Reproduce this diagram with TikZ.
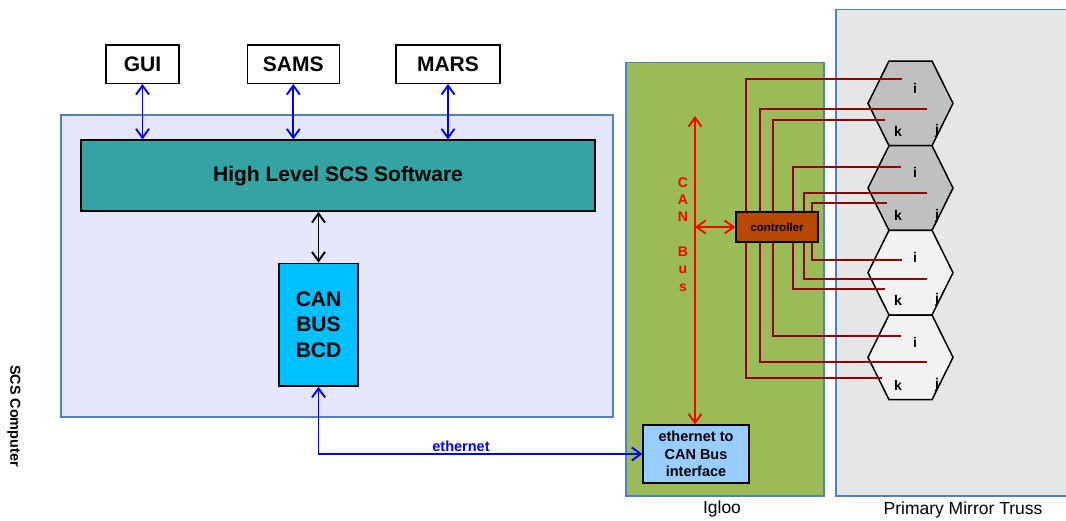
\documentclass[tikz,border=0pt]{standalone}
\usepackage{fontspec}
\setmainfont{Liberation Sans}
\usetikzlibrary{arrows.meta}

\definecolor{scsfill}{HTML}{E6E6FA}
\definecolor{frameblue}{HTML}{4F81BD}
\definecolor{hlteal}{HTML}{33A3A3}
\definecolor{bcdblue}{HTML}{00BFFF}
\definecolor{igloogreen}{HTML}{9BBB59}
\definecolor{trussgray}{HTML}{E6E6E6}
\definecolor{wirered}{HTML}{900000}
\definecolor{ctrlbrown}{HTML}{B84700}
\definecolor{ifaceblue}{HTML}{99CCFF}
\definecolor{hexdark}{HTML}{C0C0C0}
\definecolor{hexlight}{HTML}{F2F2F2}

\begin{document}
\begin{tikzpicture}[x=1pt, y=-1pt,
    >={Straight Barb[length=9pt, width=13pt]},
    box/.style={draw=black, line width=1.5pt, inner sep=0pt, align=center,
        font=\bfseries\fontsize{21}{25.5}\selectfont},
    frame/.style={draw=frameblue, line width=1.6pt, inner sep=0pt},
    bluearrow/.style={<->, draw=blue, line width=1.9pt},
    redarrow/.style={<->, draw=red, line width=1.9pt},
    hex/.style={draw=black, line width=1.5pt},
    hexlab/.style={inner sep=0pt, font=\bfseries\fontsize{14}{16}\selectfont},
    wire/.style={draw=wirered, line width=1.7pt}]
    \useasboundingbox (0,0) rectangle (1066,520);

    % SCS computer side
    \node[frame, fill=scsfill, minimum width=552, minimum height=302] (scs) at (337,266) {};
    \node[rotate=-90, font=\bfseries\fontsize{14.4}{17}\selectfont] (scslab) at (14,416) {SCS Computer};

    \node[box, fill=white, minimum width=73, minimum height=38.5] (gui) at (142.5,64) {GUI};
    \node[box, fill=white, minimum width=92, minimum height=38.5] (sams) at (293.3,64) {SAMS};
    \node[box, fill=white, minimum width=104, minimum height=38.5] (mars) at (448,64) {MARS};
    \node[box, fill=hlteal, minimum width=514, minimum height=71] (hl) at (338,175.7) {High Level SCS Software};
    \node[box, fill=bcdblue, minimum width=79, minimum height=122.7] (bcd) at (318.5,324.7) {CAN\\BUS\\BCD};

    \draw[bluearrow] (gui.south) -- (gui.south |- hl.north);
    \draw[bluearrow] (sams.south) -- (sams.south |- hl.north);
    \draw[bluearrow] (mars.south) -- (mars.south |- hl.north);
    \draw[<->, line width=1.9pt] (bcd.north |- hl.south) -- (bcd.north);

    % igloo and truss
    \node[frame, fill=trussgray, minimum width=280, minimum height=486.3] (truss) at (975.8,252.8) {};
    \node[frame, fill=igloogreen, minimum width=197.7, minimum height=433.7] (igloo) at (724.9,279.2) {};
    \node[font=\fontsize{17.5}{20}\selectfont] (igloolab) at (722,509) {Igloo};
    \node[font=\fontsize{17.5}{20}\selectfont] (trusslab) at (963,510) {Primary Mirror Truss};

    \foreach \t/\f in {61/hexdark, 145.7/hexdark, 230.3/hexlight, 315/hexlight} {
        \draw[hex, fill=\f] (868,\t+42.35) -- (889,\t) -- (932,\t) -- (953,\t+42.35)
            -- (932,\t+84.7) -- (889,\t+84.7) -- cycle;
        \node[hexlab] at (915,\t+27) {i};
        \node[hexlab] at (898,\t+70) {k};
        \node[hexlab] at (937,\t+70) {j};
    }

    % wires, top hexes to bottom hexes
    \foreach \xv/\ya/\xa/\yb/\xb in {746/79/902/378/882, 760/109/927/362/927, 773/120/885/336/901,
        793/167/901/289/885, 804/193/927/279/927, 812/203/887/260/902}
        \draw[wire] (\xa,\ya) -| (\xv,228) |- (\xb,\yb);

    \node[draw=black, line width=1.5pt, fill=ctrlbrown, minimum width=82, minimum height=30,
        inner sep=0pt, font=\bfseries\fontsize{11.5}{13}\selectfont] (ctrl) at (777,227) {controller};
    \node[box, fill=ifaceblue, minimum width=105.7, minimum height=57.7,
        font=\bfseries\fontsize{14.5}{17.3}\selectfont] (iface) at (696,454) {ethernet to\\CAN Bus\\interface};

    \coordinate (bustop) at (695,116);
    \draw[redarrow] (bustop) -- (bustop |- iface.north);
    \draw[redarrow] (bustop |- ctrl.west) -- (ctrl.west);
    \foreach \c/\y in {C/183, A/200, N/217, B/252, u/270, s/288}
        \node[text=red, inner sep=0pt, font=\bfseries\fontsize{14}{16}\selectfont] at (683,\y) {\c};

    \draw[bluearrow] (bcd.south) |- (iface.west)
        node[pos=0.72, above, inner sep=1.5pt, text=blue, font=\bfseries\fontsize{14.5}{17}\selectfont] {ethernet};
\end{tikzpicture}
\end{document}
